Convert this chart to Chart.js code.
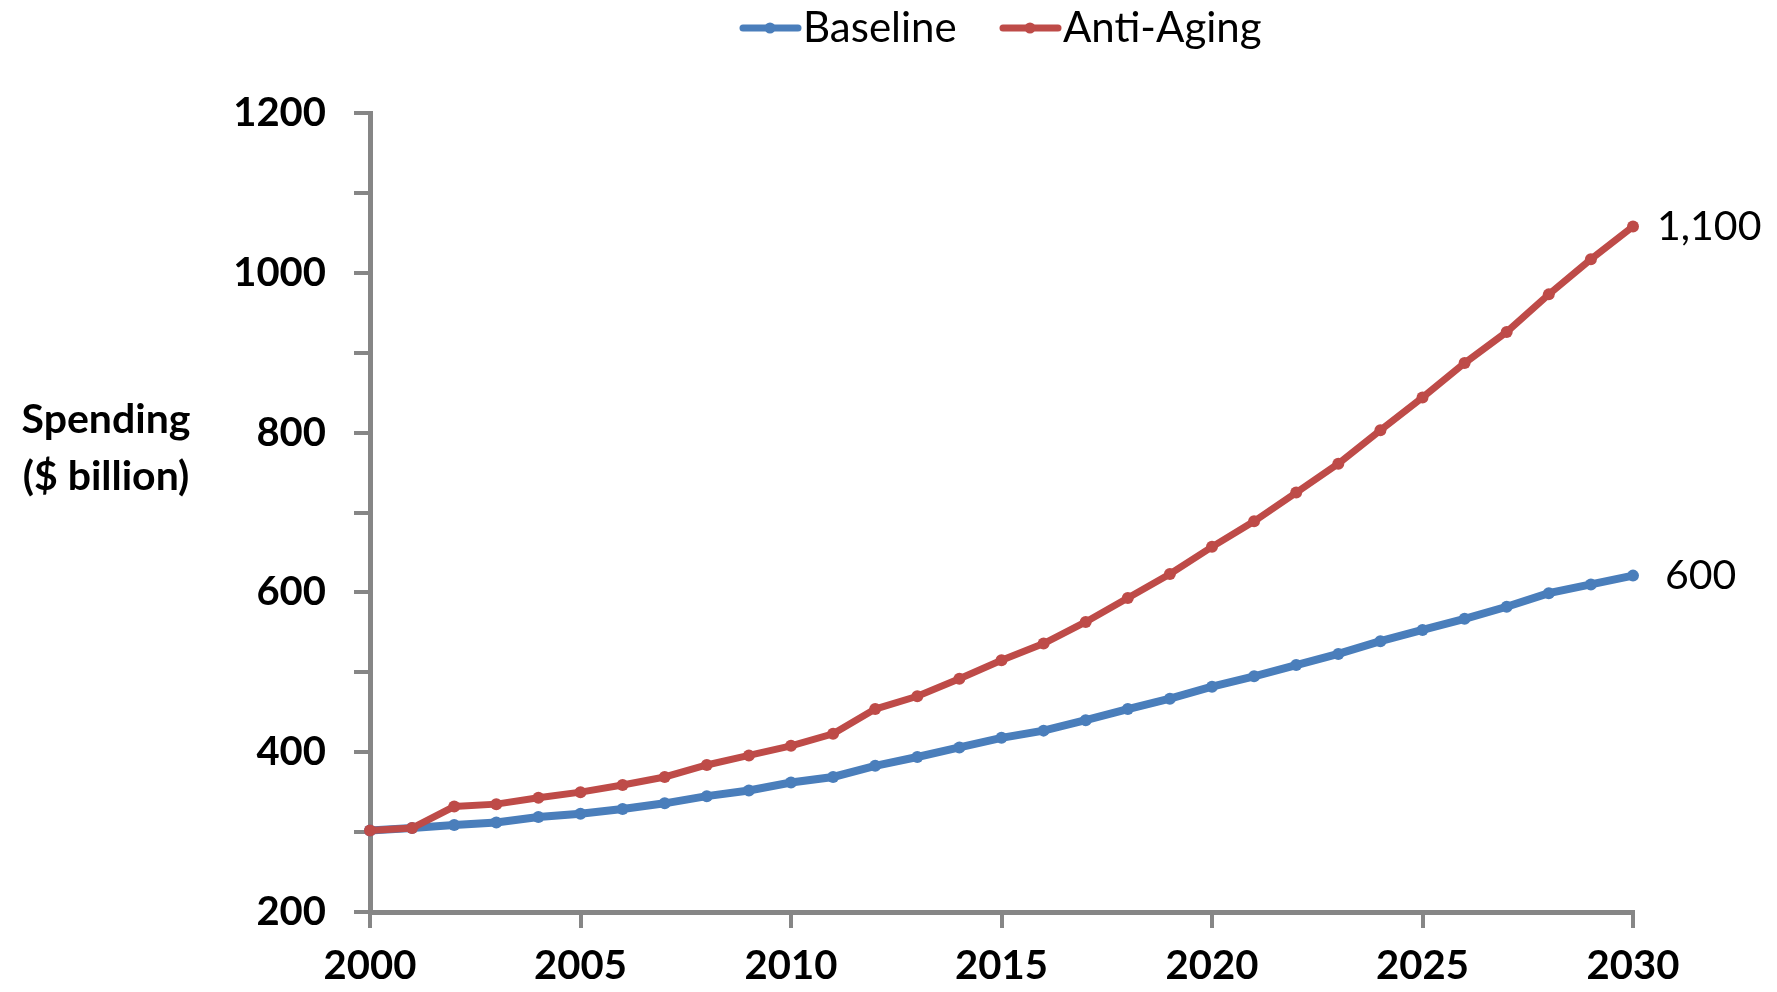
<!DOCTYPE html>
<html>
<head>
<meta charset="utf-8">
<title>Spending: Baseline vs Anti-Aging</title>
<script src="https://cdn.jsdelivr.net/npm/chart.js@4/dist/chart.umd.min.js"></script>
<style>
  html, body { margin: 0; padding: 0; background: #fff; }
  #wrap { width: 1777px; height: 992px; position: relative; }
</style>
</head>
<body>
<div id="wrap"><canvas id="chart" width="1777" height="992"></canvas></div>
<script>
// Spending projection, two scenarios ($ billion)

var years = [2000, 2001, 2002, 2003, 2004, 2005, 2006, 2007, 2008, 2009, 2010,
             2011, 2012, 2013, 2014, 2015, 2016, 2017, 2018, 2019, 2020,
             2021, 2022, 2023, 2024, 2025, 2026, 2027, 2028, 2029, 2030];

var baseline = [302, 305, 309, 312, 319, 323, 329, 336, 345, 352, 362,
                369, 383, 394, 406, 418, 427, 440, 454, 467, 482,
                495, 509, 523, 539, 553, 567, 582, 599, 610, 621];

var antiAging = [302, 305, 332, 335, 343, 350, 359, 369, 384, 396, 408,
                 423, 454, 470, 492, 515, 536, 563, 593, 623, 657,
                 689, 725, 761, 803, 844, 887, 926, 973, 1017, 1058];

var seriesNames = ['Baseline', 'Anti-Aging'];
var endLabels = ['600', '1,100'];

var xTicks = [2000, 2005, 2010, 2015, 2020, 2025, 2030];
var yTicks = [200, 300, 400, 500, 600, 700, 800, 900, 1000, 1100, 1200];
var yTickLabels = ['200', '', '400', '', '600', '', '800', '', '1000', '', '1200'];

var yTitle = ['Spending', '($ billion)'];

var BLUE = '#4A7EBB';
var RED = '#BE4B48';
var AXIS = '#868686';
var FONT = 'Lato, "Open Sans", sans-serif';

function pairs(vals) {
  return vals.map(function (v, i) { return { x: years[i], y: v }; });
}

// legend, y title and end-of-line labels
var extras = {
  id: 'extras',
  afterDraw: function (chart) {
    var ctx = chart.ctx;
    ctx.save();

    // legend
    var legX = [743, 1003];
    var legY = 28;
    chart.data.datasets.forEach(function (ds, i) {
      var x0 = legX[i];
      ctx.strokeStyle = ds.borderColor;
      ctx.lineWidth = 7;
      ctx.lineCap = 'round';
      ctx.beginPath();
      ctx.moveTo(x0, legY);
      ctx.lineTo(x0 + 55, legY);
      ctx.stroke();
      ctx.fillStyle = ds.borderColor;
      ctx.beginPath();
      ctx.arc(x0 + 27, legY, 5.5, 0, Math.PI * 2);
      ctx.fill();
      ctx.fillStyle = '#000';
      ctx.font = '42px ' + FONT;
      ctx.textAlign = 'left';
      ctx.textBaseline = 'middle';
      ctx.fillText(ds.label, x0 + 60, legY);
    });

    // y axis title, horizontal
    ctx.font = 'bold 41px ' + FONT;
    ctx.fillStyle = '#000';
    ctx.textAlign = 'center';
    ctx.textBaseline = 'middle';
    ctx.fillText(yTitle[0], 106, 420);
    ctx.fillText(yTitle[1], 106, 477);

    // end labels
    ctx.font = '41px ' + FONT;
    ctx.textAlign = 'left';
    chart.data.datasets.forEach(function (ds, i) {
      var meta = chart.getDatasetMeta(i);
      var last = meta.data[meta.data.length - 1];
      var dx = i === 0 ? 32 : 24;
      ctx.fillText(endLabels[i], last.x + dx, last.y);
    });

    ctx.restore();
  }
};

var ctx = document.getElementById('chart').getContext('2d');
new Chart(ctx, {
  type: 'line',
  data: {
    datasets: [
      { label: seriesNames[0], data: pairs(baseline), borderColor: BLUE, backgroundColor: BLUE,
        borderWidth: 8, pointRadius: 6, pointBorderWidth: 0, tension: 0, order: 1, clip: false },
      { label: seriesNames[1], data: pairs(antiAging), borderColor: RED, backgroundColor: RED,
        borderWidth: 7, pointRadius: 6, pointBorderWidth: 0, tension: 0, order: 0, clip: false }
    ]
  },
  options: {
    responsive: false,
    animation: false,
    layout: { padding: { top: 113, right: 144, bottom: 0, left: 0 } },
    plugins: {
      legend: { display: false },
      tooltip: { enabled: false }
    },
    scales: {
      x: {
        type: 'linear',
        min: 2000,
        max: 2030,
        afterBuildTicks: function (axis) {
          axis.ticks = xTicks.map(function (v) { return { value: v }; });
        },
        afterFit: function (axis) { axis.height = 80; },
        grid: { drawOnChartArea: false, drawTicks: true, tickLength: 16, color: AXIS, lineWidth: 4 },
        border: { color: AXIS, width: 5 },
        ticks: {
          color: '#000',
          padding: 14,
          maxRotation: 0,
          font: { family: FONT, size: 40, weight: 'bold' },
          callback: function (v) { return String(v); }
        }
      },
      y: {
        min: 200,
        max: 1200,
        afterBuildTicks: function (axis) {
          axis.ticks = yTicks.map(function (v) { return { value: v }; });
        },
        afterFit: function (axis) { axis.width = 370; },
        grid: { drawOnChartArea: false, drawTicks: true, tickLength: 16, color: AXIS, lineWidth: 4 },
        border: { color: AXIS, width: 5 },
        ticks: {
          color: '#000',
          padding: 28,
          font: { family: FONT, size: 40, weight: 'bold' },
          callback: function (v) {
            var i = yTicks.indexOf(v);
            return i >= 0 ? yTickLabels[i] : '';
          }
        }
      }
    }
  },
  plugins: [extras]
});
</script>
</body>
</html>
